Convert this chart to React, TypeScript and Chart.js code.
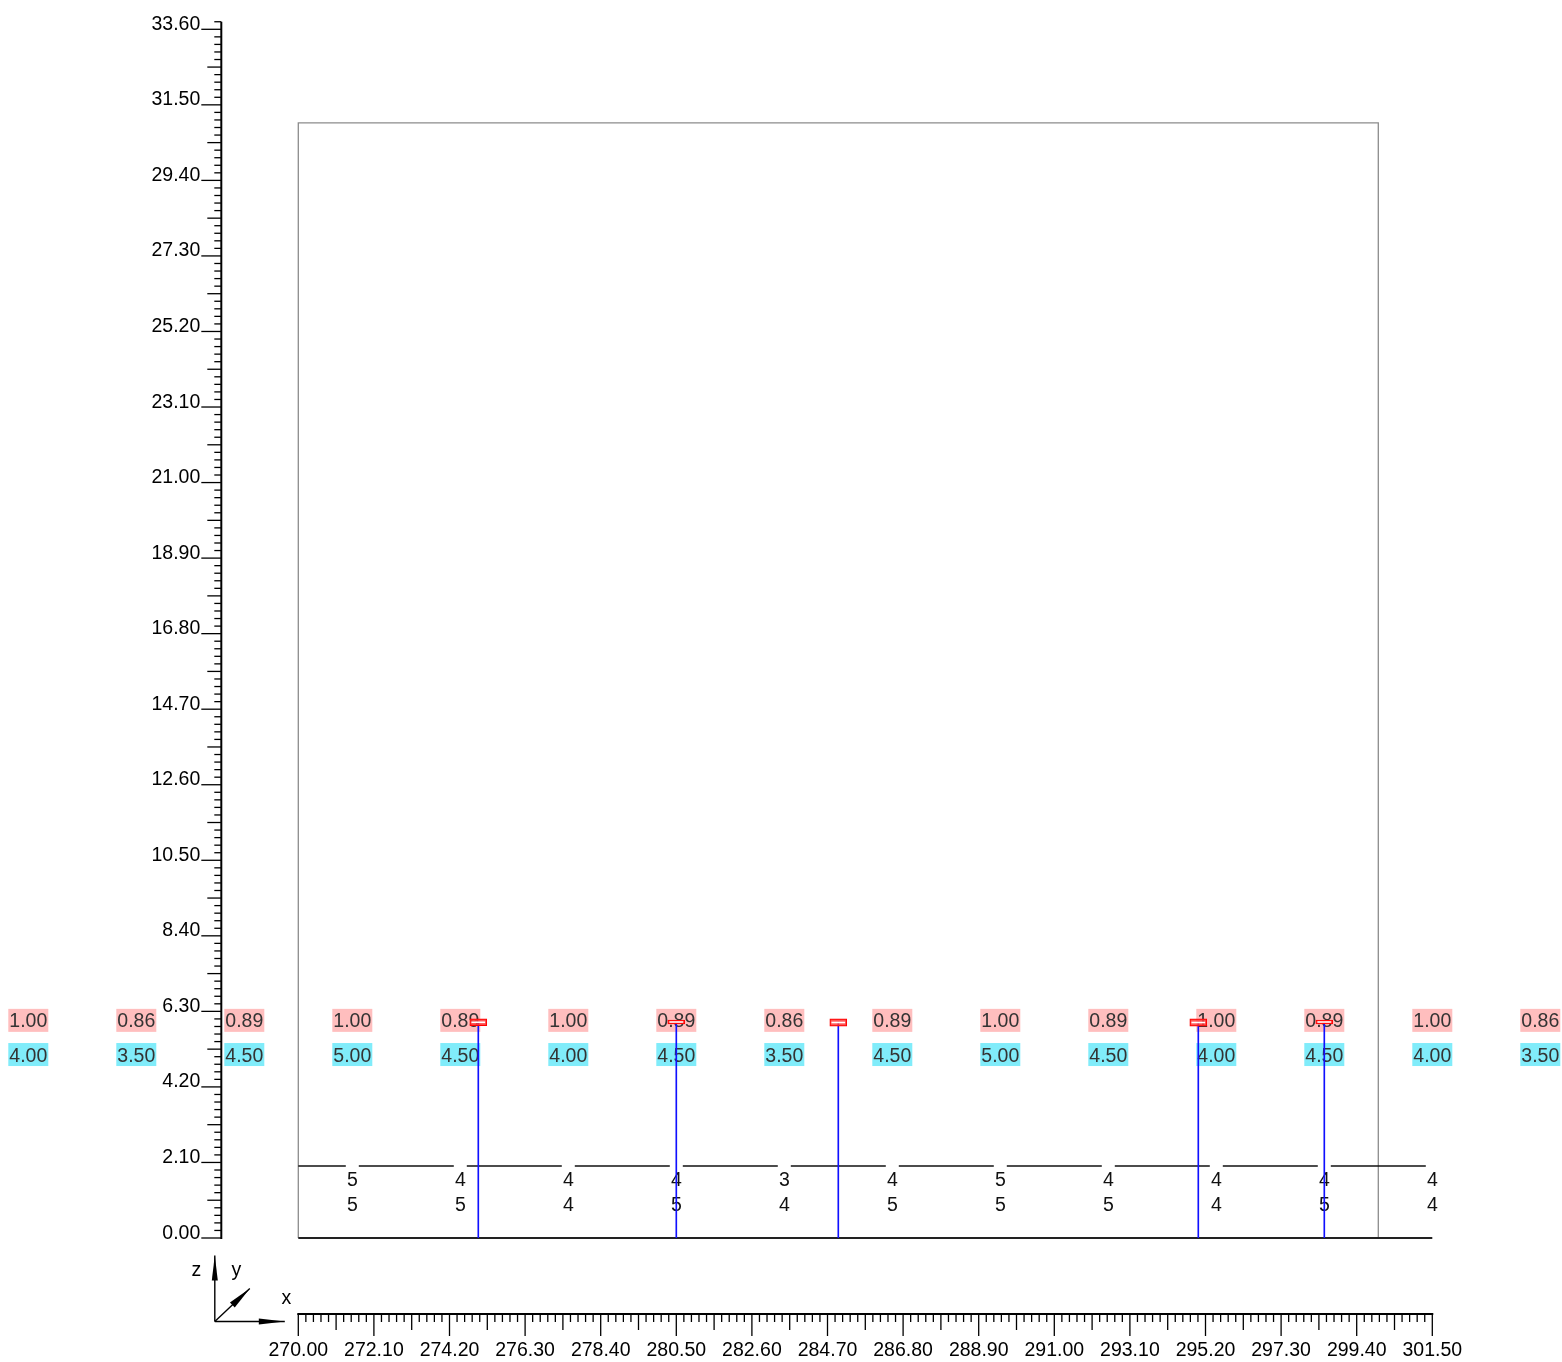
import React, { useEffect, useRef } from 'react';
import { Chart, registerables } from 'chart.js';

Chart.register(...registerables);

// ---------------- data ----------------
const xTickValues = [270.0, 272.1, 274.2, 276.3, 278.4, 280.5, 282.6, 284.7, 286.8, 288.9, 291.0, 293.1, 295.2, 297.3, 299.4, 301.5];
const xTickLabels = ['270.00', '272.10', '274.20', '276.30', '278.40', '280.50', '282.60', '284.70', '286.80', '288.90', '291.00', '293.10', '295.20', '297.30', '299.40', '301.50'];
const yTickValues = [0.0, 2.1, 4.2, 6.3, 8.4, 10.5, 12.6, 14.7, 16.8, 18.9, 21.0, 23.1, 25.2, 27.3, 29.4, 31.5, 33.6];
const yTickLabels = ['0.00', '2.10', '4.20', '6.30', '8.40', '10.50', '12.60', '14.70', '16.80', '18.90', '21.00', '23.10', '25.20', '27.30', '29.40', '31.50', '33.60'];

const cardPositions = [262.5, 265.5, 268.5, 271.5, 274.5, 277.5, 280.5, 283.5, 286.5, 289.5, 292.5, 295.5, 298.5, 301.5, 304.5];
const ratioValues = [1.0, 0.86, 0.89, 1.0, 0.89, 1.0, 0.89, 0.86, 0.89, 1.0, 0.89, 1.0, 0.89, 1.0, 0.86];
const scoreValues = [4.0, 3.5, 4.5, 5.0, 4.5, 4.0, 4.5, 3.5, 4.5, 5.0, 4.5, 4.0, 4.5, 4.0, 3.5];

const countPositions = [271.5, 274.5, 277.5, 280.5, 283.5, 286.5, 289.5, 292.5, 295.5, 298.5, 301.5];
const countUpper = [5, 4, 4, 4, 3, 4, 5, 4, 4, 4, 4];
const countLower = [5, 5, 4, 5, 4, 5, 5, 5, 4, 5, 4];

const stemPositions = [275.0, 280.5, 285.0, 295.0, 298.5];
const stemHeights = [6.0, 6.0, 6.0, 6.0, 6.0];
const capBottoms = [5.9, 5.95, 5.89, 5.89, 5.95];
const capTops = [6.09, 6.06, 6.09, 6.09, 6.06];

const frameXs = [270, 270, 300, 300];
const frameYs = [0, 31, 31, 0];
const guideXs = [270, 301.5];
const guideLevel = 2.0;
const floorLevel = 0.0;
const xRange = [270, 301.5];
const yRange = [0, 33.6];

// ---------------- style ----------------
const W = 1562;
const H = 1362;
const FONT = "19.5px 'Liberation Sans', Arial, Helvetica, sans-serif";
const PINK = 'rgb(255,190,190)';
const CYAN = 'rgb(128,236,250)';
const ROW_RATIO = 6.05;
const ROW_SCORE = 5.1;
const ROW_UPPER = 1.65;
const ROW_LOWER = 0.95;
const Y_AXIS_GAP = 77;
const X_AXIS_GAP = 76;

function seg(ctx: CanvasRenderingContext2D, x1: number, y1: number, x2: number, y2: number) {
  ctx.beginPath();
  ctx.moveTo(x1, y1);
  ctx.lineTo(x2, y2);
  ctx.stroke();
}

function arrow(ctx: CanvasRenderingContext2D, x0: number, y0: number, x1: number, y1: number, headLen: number, headHalf: number) {
  seg(ctx, x0, y0, x1, y1);
  const dx = x1 - x0;
  const dy = y1 - y0;
  const L = Math.hypot(dx, dy);
  const ux = dx / L;
  const uy = dy / L;
  const bx = x1 - ux * headLen;
  const by = y1 - uy * headLen;
  ctx.beginPath();
  ctx.moveTo(x1, y1);
  ctx.lineTo(bx - uy * headHalf, by + ux * headHalf);
  ctx.lineTo(bx + uy * headHalf, by - ux * headHalf);
  ctx.closePath();
  ctx.fill();
}

function drawLabels(chart: any) {
  const ctx: CanvasRenderingContext2D = chart.ctx;
  const xs = chart.scales.x;
  const ys = chart.scales.y;
  ctx.save();
  ctx.font = FONT;
  ctx.textAlign = 'center';
  ctx.textBaseline = 'alphabetic';

  const pr = ys.getPixelForValue(ROW_RATIO);
  const ps = ys.getPixelForValue(ROW_SCORE);
  cardPositions.forEach((xv, i) => {
    const px = xs.getPixelForValue(xv);
    ctx.fillStyle = PINK;
    ctx.fillRect(px - 20, pr - 11.5, 40, 23);
    ctx.fillStyle = CYAN;
    ctx.fillRect(px - 20, ps - 11.5, 40, 23);
    ctx.fillStyle = '#333';
    ctx.fillText(ratioValues[i].toFixed(2), px, pr + 7);
    ctx.fillText(scoreValues[i].toFixed(2), px, ps + 7);
  });

  const pu = ys.getPixelForValue(ROW_UPPER);
  const pl = ys.getPixelForValue(ROW_LOWER);
  countPositions.forEach((xv, i) => {
    const px = xs.getPixelForValue(xv);
    ctx.fillStyle = '#fff';
    ctx.fillRect(px - 6.5, pu - 15, 13, 26);
    ctx.fillStyle = '#111';
    ctx.fillText(String(countUpper[i]), px, pu + 7);
    ctx.fillText(String(countLower[i]), px, pl + 7);
  });
  ctx.restore();
}

function drawAxes(chart: any) {
  const ctx: CanvasRenderingContext2D = chart.ctx;
  const xs = chart.scales.x;
  const ys = chart.scales.y;
  const axisX = xs.left - Y_AXIS_GAP;
  const axisY = ys.bottom + X_AXIS_GAP;
  ctx.save();
  ctx.strokeStyle = '#000';
  ctx.fillStyle = '#000';
  ctx.font = FONT;

  // ----- y axis -----
  const ny = yTickValues.length;
  const yStep = (yTickValues[1] - yTickValues[0]) / 10;
  ctx.lineWidth = 2;
  seg(ctx, axisX, ys.getPixelForValue(yTickValues[0]) + 1, axisX, ys.getPixelForValue(yTickValues[ny - 1] + yStep));
  ctx.lineWidth = 1.3;
  ctx.textAlign = 'right';
  ctx.textBaseline = 'alphabetic';
  for (let i = 0; i < ny; i++) {
    const v = yTickValues[i];
    const py = ys.getPixelForValue(v);
    seg(ctx, axisX - 20, py, axisX, py);
    ctx.fillText(yTickLabels[i], axisX - 21, py + 0.5);
    const kmax = i < ny - 1 ? 9 : 1;
    for (let k = 1; k <= kmax; k++) {
      const pk = ys.getPixelForValue(v + k * yStep);
      const len = k === 5 ? 14 : 7;
      seg(ctx, axisX - len, pk, axisX, pk);
    }
  }

  // ----- x axis -----
  const nx = xTickValues.length;
  const xStep = (xTickValues[1] - xTickValues[0]) / 10;
  ctx.lineWidth = 2;
  seg(ctx, xs.getPixelForValue(xTickValues[0]) - 1, axisY, xs.getPixelForValue(xTickValues[nx - 1]) + 1, axisY);
  ctx.lineWidth = 1.3;
  ctx.textAlign = 'center';
  for (let i = 0; i < nx; i++) {
    const v = xTickValues[i];
    const px = xs.getPixelForValue(v);
    seg(ctx, px, axisY, px, axisY + 22);
    ctx.fillText(xTickLabels[i], px, axisY + 42);
    if (i < nx - 1) {
      for (let k = 1; k <= 9; k++) {
        const pk = xs.getPixelForValue(v + k * xStep);
        const len = k === 5 ? 16 : 8;
        seg(ctx, pk, axisY, pk, axisY + len);
      }
    }
  }

  // ----- orientation triad -----
  const ox = axisX - 6.5;
  const oy = axisY + 7.5;
  ctx.lineWidth = 1.4;
  arrow(ctx, ox, oy, ox, oy - 66, 25, 3);
  arrow(ctx, ox, oy, ox + 70, oy, 26, 3);
  arrow(ctx, ox, oy, ox + 35, oy - 33, 24, 3.5);
  ctx.textAlign = 'center';
  ctx.fillText('z', ox - 18.5, oy - 45.5);
  ctx.fillText('y', ox + 21.5, oy - 45.5);
  ctx.fillText('x', ox + 71.5, oy - 17.5);
  ctx.restore();
}

const GUIDE_INDEX = 2;

const decorPlugin = {
  id: 'decor',
  afterDatasetDraw(chart: any, args: any) {
    if (args.index === GUIDE_INDEX) drawLabels(chart);
  },
  afterDraw(chart: any) {
    drawAxes(chart);
  },
};

export default function App() {
  const canvasRef = useRef<HTMLCanvasElement | null>(null);

  useEffect(() => {
    const canvas = canvasRef.current;
    if (!canvas) return;

    const frameData = frameXs.map((x, i) => ({ x, y: frameYs[i] }));
    const guideData = guideXs.map((x) => ({ x, y: guideLevel }));
    const floorData = guideXs.map((x) => ({ x, y: floorLevel }));
    const stemData = stemPositions.map((x, i) => ({ x, y: [0, stemHeights[i]] }));
    const capData = stemPositions.map((x, i) => ({ x, y: [capBottoms[i], capTops[i]] }));
    const capMidData = stemPositions.map((x, i) => {
      const m = (capBottoms[i] + capTops[i]) / 2;
      return { x, y: [m - 0.012, m + 0.012] };
    });

    const chart = new Chart(canvas, {
      type: 'bar',
      data: {
        datasets: [
          {
            type: 'line',
            data: frameData,
            borderColor: 'rgb(140,140,140)',
            borderWidth: 1.3,
            pointRadius: 0,
            fill: false,
            tension: 0,
            clip: false,
            order: 7,
          } as any,
          {
            type: 'line',
            data: floorData,
            borderColor: '#222',
            borderWidth: 2,
            pointRadius: 0,
            fill: false,
            clip: false,
            order: 6,
          } as any,
          {
            type: 'line',
            data: guideData,
            borderColor: '#111',
            borderWidth: 1.6,
            pointRadius: 0,
            fill: false,
            clip: false,
            order: 5,
          } as any,
          {
            type: 'bar',
            data: stemData,
            backgroundColor: '#1010ff',
            borderWidth: 0,
            barThickness: 1,
            grouped: false,
            order: 3,
          } as any,
          {
            type: 'bar',
            data: capData,
            backgroundColor: 'rgba(255,60,60,0.8)',
            borderColor: '#ff0000',
            borderWidth: 1,
            borderSkipped: false,
            barThickness: 17,
            grouped: false,
            order: 2,
          } as any,
          {
            type: 'bar',
            data: capMidData,
            backgroundColor: '#ffffff',
            borderWidth: 0,
            barThickness: 13,
            grouped: false,
            order: 1,
          } as any,
        ],
      },
      options: {
        responsive: false,
        animation: false,
        devicePixelRatio: 1,
        events: [],
        layout: {
          autoPadding: false,
          padding: { left: 298.3, right: W - 1432.3, top: 29.3, bottom: H - 1238 },
        },
        plugins: {
          legend: { display: false },
          tooltip: { enabled: false },
          title: { display: false },
        },
        scales: {
          x: { type: 'linear', min: xRange[0], max: xRange[1], display: false, offset: false },
          y: { type: 'linear', min: yRange[0], max: yRange[1], display: false },
        },
      } as any,
      plugins: [decorPlugin],
    });

    return () => chart.destroy();
  }, []);

  return (
    <div style={{ position: 'fixed', left: 0, top: 0, width: W, height: H, background: '#fff' }}>
      <canvas ref={canvasRef} width={W} height={H} style={{ display: 'block', width: W, height: H }} />
    </div>
  );
}
